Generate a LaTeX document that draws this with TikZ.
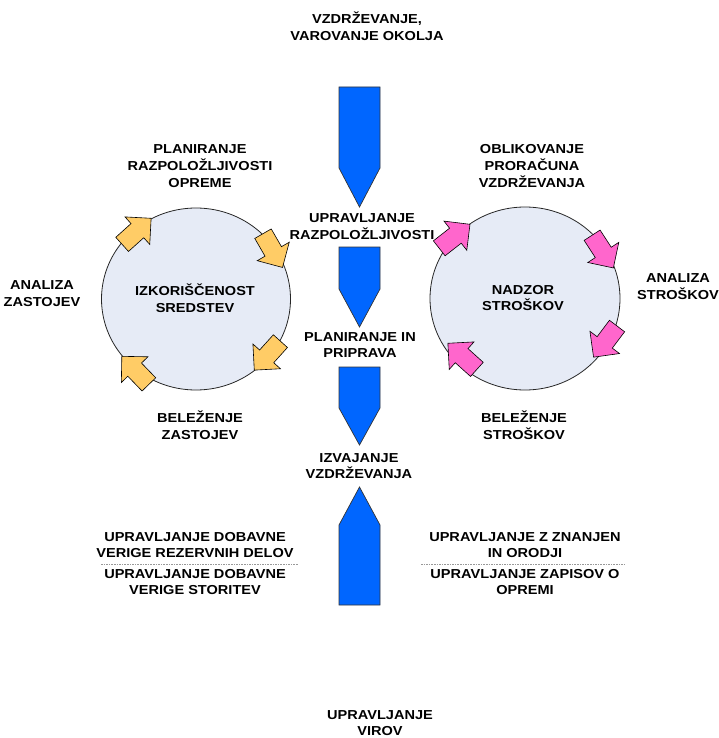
\documentclass[tikz,border=0pt]{standalone}
\usepackage{fontspec}
\setmainfont{Liberation Sans}[BoldFont={Liberation Sans Bold}, FakeStretch=1.12]
\definecolor{flowblue}{HTML}{0066FF}
\definecolor{ringfill}{HTML}{E6EBF6}
\definecolor{gold}{HTML}{FFCC66}
\definecolor{rose}{HTML}{FF66CC}
\tikzset{
  blockarrow/.pic={
    \path[pic actions] (-20,-9.5) -- (0.5,-9.5) -- (0.5,-18.5) -- (19,0)
      -- (0.5,18.5) -- (0.5,9.5) -- (-20,9.5) -- cycle;
  },
  lbl/.style={font=\bfseries\fontsize{13}{16.8}\selectfont, align=center, inner sep=0pt},
  ring/.style={draw=black!85, line width=0.8pt, fill=ringfill},
  ringarrow/.style={draw=black, line width=0.6pt},
  flowarrow/.style={draw=black!80, line width=0.7pt, fill=flowblue},
  divider/.style={draw=gray!80, line width=0.6pt, dash pattern=on 1.6pt off 1pt}
}
\begin{document}
\begin{tikzpicture}[x=1pt,y=-1pt]
\useasboundingbox (0,0) rectangle (718,738);

% the two cycles
\draw[ring] (196,299) ellipse [x radius=94.5, y radius=91];
\draw[ring] (525,298.5) ellipse [x radius=95, y radius=91.5];

% clockwise arrows on the left cycle
\pic[ringarrow, fill=gold, rotate=42]   at (137,231) {blockarrow};
\pic[ringarrow, fill=gold, rotate=-60]  at (273,251) {blockarrow};
\pic[ringarrow, fill=gold, rotate=-132] at (267,356) {blockarrow};
\pic[ringarrow, fill=gold, rotate=134]  at (135,370) {blockarrow};

% clockwise arrows on the right cycle
\pic[ringarrow, fill=rose, rotate=38]   at (455,236) {blockarrow};
\pic[ringarrow, fill=rose, rotate=-57]  at (603,252) {blockarrow};
\pic[ringarrow, fill=rose, rotate=-127] at (605,342) {blockarrow};
\pic[ringarrow, fill=rose, rotate=138]  at (462,356) {blockarrow};

% central flow of pentagon arrows
\draw[flowarrow] (339,87) -- (380,87) -- (380,168) -- (359.5,207) -- (339,168) -- cycle;
\draw[flowarrow] (339,247) -- (380,247) -- (380,289) -- (359.5,327) -- (339,289) -- cycle;
\draw[flowarrow] (339,367) -- (380,367) -- (380,408) -- (359.5,445) -- (339,408) -- cycle;
\draw[flowarrow] (339,605) -- (339,525) -- (359.5,487) -- (380,525) -- (380,605) -- cycle;

% labels
\node[lbl] (env)    at (367,26.5)  {VZDRŽEVANJE,\\VAROVANJE OKOLJA};
\node[lbl] (plan)   at (200,166)   {PLANIRANJE\\RAZPOLOŽLJIVOSTI\\OPREME};
\node[lbl] (budget) at (532,166)   {OBLIKOVANJE\\PRORAČUNA\\VZDRŽEVANJA};
\node[lbl] (avail)  at (362,226.5) {UPRAVLJANJE\\RAZPOLOŽLJIVOSTI};
\node[lbl] (downa)  at (42,293.5)  {ANALIZA\\ZASTOJEV};
\node[lbl] (util)   at (195,298.5) {IZKORIŠČENOST\\SREDSTEV};
\node[lbl] (costc)  at (523,298)   {NADZOR\\STROŠKOV};
\node[lbl] (costa)  at (678,286.5) {ANALIZA\\STROŠKOV};
\node[lbl] (prep)   at (360,345)   {PLANIRANJE IN\\PRIPRAVA};
\node[lbl] (downr)  at (200,425)   {BELEŽENJE\\ZASTOJEV};
\node[lbl] (costr)  at (524,425)   {BELEŽENJE\\STROŠKOV};
\node[lbl] (exec)   at (359,466)   {IZVAJANJE\\VZDRŽEVANJA};
\node[lbl] (spares) at (195,545)   {UPRAVLJANJE DOBAVNE\\VERIGE REZERVNIH DELOV};
\node[lbl] (serv)   at (195,582)   {UPRAVLJANJE DOBAVNE\\VERIGE STORITEV};
\node[lbl] (know)   at (525,545)   {UPRAVLJANJE Z ZNANJEN\\IN ORODJI};
\node[lbl] (recs)   at (525,582)   {UPRAVLJANJE ZAPISOV O\\OPREMI};
\node[lbl] (res)    at (380,723)   {UPRAVLJANJE\\VIROV};

% dashed dividers
\coordinate (dl1) at (101,564);
\coordinate (dl2) at (298,564);
\coordinate (dr1) at (421,564);
\coordinate (dr2) at (626,564);
\draw[divider] (dl1) -- (dl2);
\draw[divider] (dr1) -- (dr2);
\end{tikzpicture}
\end{document}
